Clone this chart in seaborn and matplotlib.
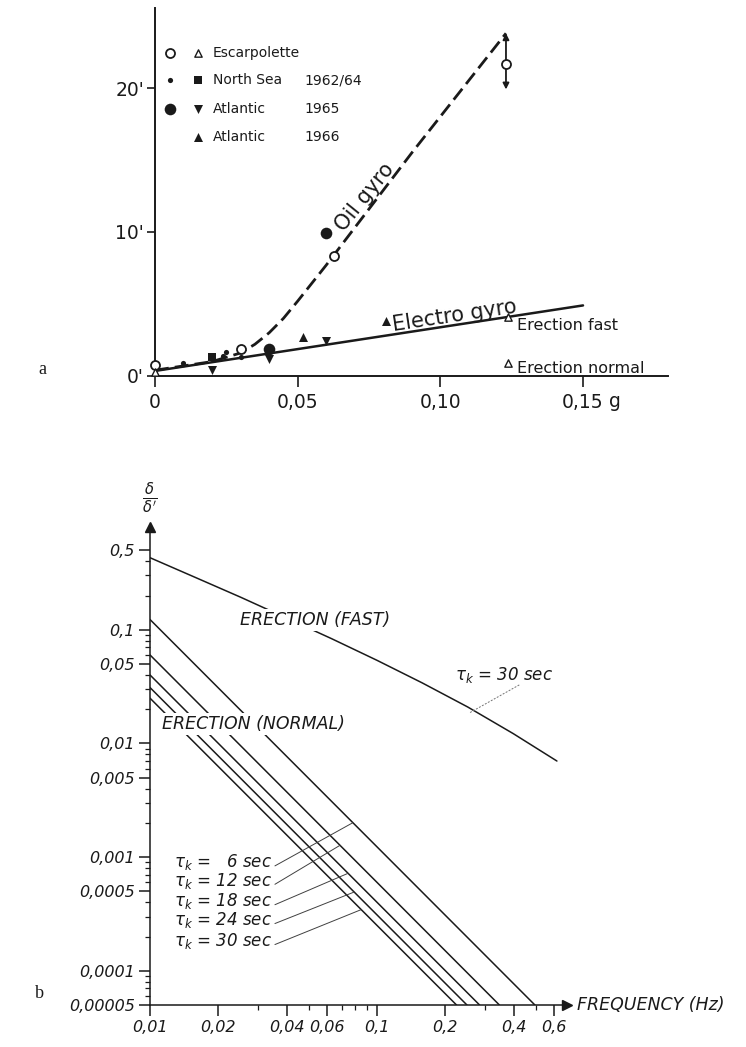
import matplotlib
matplotlib.use("Agg")
import matplotlib.pyplot as plt
from matplotlib.ticker import FixedLocator, NullFormatter
import seaborn as sns

# ---------------- panel a : deviation (arc min) against acceleration (g)
escar_circle_g = [0.0, 0.030, 0.0627, 0.123]
escar_circle_dev = [0.76, 1.9, 8.3, 21.7]
escar_tri_g = [0.0, 0.1237, 0.1237]
escar_tri_dev = [0.28, 4.1, 0.9]
ns_dot_g = [0.0098, 0.024, 0.025, 0.030]
ns_dot_dev = [0.9, 1.4, 1.7, 1.3]
ns_square_g = [0.020]
ns_square_dev = [1.3]
atl65_dot_g = [0.040, 0.060]
atl65_dot_dev = [1.9, 9.9]
atl65_down_g = [0.020, 0.040, 0.060]
atl65_down_dev = [0.4, 1.2, 2.4]
atl66_up_g = [0.052, 0.081]
atl66_up_dev = [2.7, 3.8]

oil_g = [0.0, 0.02, 0.03, 0.035, 0.04, 0.045, 0.05, 0.06, 0.09, 0.123]
oil_dev = [0.4, 1.0, 1.6, 2.2, 3.0, 4.0, 5.2, 7.7, 15.5, 23.8]
electro_g = [0.0, 0.15]
electro_dev = [0.35, 4.9]
spread_g = 0.123
spread_low, spread_high = 19.9, 23.8

a_xticks = [0, 0.05, 0.10, 0.15]
a_xlabels = ["0", "0,05", "0,10", "0,15"]
a_yticks = [0, 10, 20]
a_ylabels = ["0'", "10'", "20'"]

legend_names = ["Escarpolette", "North Sea", "Atlantic", "Atlantic"]
legend_years = ["", "1962/64", "1965", "1966"]

# ---------------- panel b : ratio against frequency (Hz)
fast_freq = [0.01, 0.0158, 0.0251, 0.0398, 0.0631, 0.1, 0.158, 0.251,
             0.398, 0.62]
fast_ratio = [0.430, 0.289, 0.193, 0.127, 0.0834, 0.0538, 0.0341, 0.0209,
              0.0122, 0.0070]
tau_k = [6, 12, 18, 24, 30]
normal_start = [0.123, 0.060, 0.040, 0.031, 0.025]      # value at 0.01 Hz
normal_end_freq = [0.496, 0.346, 0.283, 0.249, 0.224]   # reaches 0.00005
tau_label_y = [0.00090, 0.00062, 0.00041, 0.00028, 0.000183]
leader_freq = [0.078, 0.0687, 0.0745, 0.0793, 0.0851]
leader_ratio = [0.0020, 0.00127, 0.00072, 0.000493, 0.000345]

b_xticks = [0.01, 0.02, 0.04, 0.06, 0.1, 0.2, 0.4, 0.6]
b_xlabels = ["0,01", "0,02", "0,04", "0,06", "0,1", "0,2", "0,4", "0,6"]
b_xminor = [0.03, 0.05, 0.07, 0.08, 0.09, 0.3, 0.5]
b_yticks = [0.5, 0.1, 0.05, 0.01, 0.005, 0.001, 0.0005, 0.0001, 0.00005]
b_ylabels = ["0,5", "0,1", "0,05", "0,01", "0,005", "0,001", "0,0005",
             "0,0001", "0,00005"]

sns.set_theme(style="ticks")
plt.rcParams["font.family"] = ["DejaVu Sans"]
plt.rcParams["mathtext.fontset"] = "dejavusans"
plt.rcParams.update({"axes.linewidth": 1.4, "text.color": "k",
                     "axes.edgecolor": "k", "axes.labelcolor": "k",
                     "xtick.color": "k", "ytick.color": "k"})

fig = plt.figure(figsize=(7.46, 10.47), dpi=100)

# ================= panel a
ax = fig.add_axes([0.2078, 0.6409, 0.6877, 0.3515])

sns.lineplot(x=electro_g, y=electro_dev, ax=ax, color="k", lw=1.8)
sns.lineplot(x=oil_g, y=oil_dev, ax=ax, color="k", lw=2.0,
             linestyle=(0, (5, 2.2)))
ax.annotate("", xy=(spread_g, spread_high), xytext=(spread_g, spread_low),
            arrowprops=dict(arrowstyle="<|-|>", color="k", lw=1.3,
                            shrinkA=0, shrinkB=0, mutation_scale=9))


def pts(a, xs, ys, marker, s, face, lw=1.2, transform=None):
    kw = dict(marker=marker, s=s, color=face, edgecolor="k", linewidth=lw,
              zorder=4, clip_on=False)
    if transform is not None:
        a.scatter(xs, ys, transform=transform, **kw)
    else:
        sns.scatterplot(x=xs, y=ys, ax=a, **kw)


pts(ax, escar_circle_g, escar_circle_dev, "o", 42, "white", 1.3)
pts(ax, escar_tri_g, escar_tri_dev, "^", 28, "white", 1.0)
pts(ax, ns_dot_g, ns_dot_dev, "o", 14, "k", 0)
pts(ax, ns_square_g, ns_square_dev, "s", 36, "k", 0)
pts(ax, atl65_dot_g, atl65_dot_dev, "o", 70, "k", 0)
pts(ax, atl65_down_g, atl65_down_dev, "v", 42, "k", 0)
pts(ax, atl66_up_g, atl66_up_dev, "^", 42, "k", 0)

# legend drawn as in the original figure
leg_rows = [0.878, 0.804, 0.726, 0.649]
T = ax.transAxes
pts(ax, [0.029], [leg_rows[0]], "o", 42, "white", 1.3, T)
pts(ax, [0.084], [leg_rows[0]], "^", 28, "white", 1.0, T)
pts(ax, [0.029], [leg_rows[1]], "o", 14, "k", 0, T)
pts(ax, [0.084], [leg_rows[1]], "s", 36, "k", 0, T)
pts(ax, [0.029], [leg_rows[2]], "o", 70, "k", 0, T)
pts(ax, [0.084], [leg_rows[2]], "v", 42, "k", 0, T)
pts(ax, [0.084], [leg_rows[3]], "^", 42, "k", 0, T)
for yy, name, year in zip(leg_rows, legend_names, legend_years):
    ax.text(0.113, yy, name, transform=T, fontsize=10, va="center")
    ax.text(0.292, yy, year, transform=T, fontsize=10, va="center")

ax.text(0.0663, 10.0, "Oil gyro", rotation=51, rotation_mode="anchor",
        ha="left", va="baseline", fontsize=15)
ax.text(0.0834, 3.15, "Electro gyro", rotation=8.5, rotation_mode="anchor",
        ha="left", va="baseline", fontsize=15)
ax.text(0.1269, 3.54, "Erection fast", ha="left", va="center", fontsize=11.5)
ax.text(0.1269, 0.55, "Erection normal", ha="left", va="center",
        fontsize=11.5)

ax.set_xlim(0, 0.1798)
ax.set_ylim(0, 25.56)
ax.set_xticks(a_xticks, a_xlabels)
ax.set_yticks(a_yticks, a_ylabels)
ax.tick_params(axis="x", length=8, width=1.2, labelsize=13.5, pad=4)
ax.tick_params(axis="y", length=6, width=1.2, labelsize=13.5, pad=2)
ax.annotate("g", xy=(0.15, 0), xycoords=("data", "axes fraction"),
            xytext=(19, -11.5), textcoords="offset points", ha="left",
            va="top", fontsize=13.5)
ax.set_xlabel("")
ax.set_ylabel("")
sns.despine(ax=ax)

# ================= panel b
bx = fig.add_axes([0.2011, 0.0401, 0.559, 0.4565])
bx.set_xscale("log")
bx.set_yscale("log")

sns.lineplot(x=fast_freq, y=fast_ratio, ax=bx, color="k", lw=1.1)
for y0, f1 in zip(normal_start, normal_end_freq):
    sns.lineplot(x=[0.01, f1], y=[y0, 0.00005], ax=bx, color="k", lw=1.1)

for tk, ly, lf, lr in zip(tau_k, tau_label_y, leader_freq, leader_ratio):
    pad = "  " if tk < 10 else ""
    bx.text(0.0345, ly, r"$\tau_k$ = " + pad + f"{tk} sec", ha="right",
            va="center", fontsize=12, style="italic")
    sns.lineplot(x=[0.0355, lf], y=[ly * 0.93, lr], ax=bx, color="0.25",
                 lw=0.7)

box = dict(facecolor="white", edgecolor="none", pad=1.5)
bx.text(0.0249, 0.122, "ERECTION (FAST)", ha="left", va="center",
        fontsize=12.5, style="italic", bbox=box, zorder=5)
bx.text(0.0113, 0.0147, "ERECTION (NORMAL)", ha="left", va="center",
        fontsize=12.5, style="italic", bbox=box, zorder=5)
bx.text(0.22, 0.040, r"$\tau_k$ = 30 sec", ha="left", va="center",
        fontsize=12, style="italic")
sns.lineplot(x=[0.257, 0.4266], y=[0.0187, 0.033], ax=bx, color="0.45",
             lw=0.7, linestyle=(0, (2, 1.5)))

bx.set_xlim(0.01, 0.687)
bx.set_ylim(0.00005, 0.8)
bx.set_xticks(b_xticks, b_xlabels)
bx.set_yticks(b_yticks, b_ylabels)
bx.xaxis.set_minor_locator(FixedLocator(b_xminor))
bx.xaxis.set_minor_formatter(NullFormatter())
y_minor = [k * 10.0 ** e for e in range(-5, 0) for k in (2, 3, 4, 6, 7, 8, 9)
           if 0.00005 < k * 10.0 ** e < 0.5]
bx.yaxis.set_minor_locator(FixedLocator(y_minor))
bx.yaxis.set_minor_formatter(NullFormatter())
bx.tick_params(which="major", length=8, width=1.1, labelsize=11.5, pad=3)
bx.tick_params(which="minor", length=3.5, width=0.9)
for lbl in bx.get_xticklabels() + bx.get_yticklabels():
    lbl.set_style("italic")
bx.set_xlabel("")
bx.set_ylabel("")
for s in ("left", "bottom"):
    bx.spines[s].set_linewidth(1.1)
sns.despine(ax=bx)

# axis arrows and labels
bx.plot([1.0], [0.0], marker=">", color="k", ms=7, transform=bx.transAxes,
        clip_on=False)
bx.plot([0.0], [1.0], marker="^", color="k", ms=7, transform=bx.transAxes,
        clip_on=False)
bx.annotate("FREQUENCY (Hz)", xy=(1.0, 0.0), xycoords="axes fraction",
            xytext=(7, 0), textcoords="offset points", ha="left",
            va="center", fontsize=12.5, style="italic")
bx.annotate(r"$\frac{\delta}{\delta'}$", xy=(0.0, 1.0),
            xycoords="axes fraction", xytext=(0, 8), textcoords="offset points",
            ha="center", va="bottom", fontsize=15)

fig.text(0.052, 0.643, "a", family="Liberation Serif", fontsize=13)
fig.text(0.047, 0.047, "b", family="Liberation Serif", fontsize=13)

fig.savefig("out.png", dpi=100, facecolor="white")
